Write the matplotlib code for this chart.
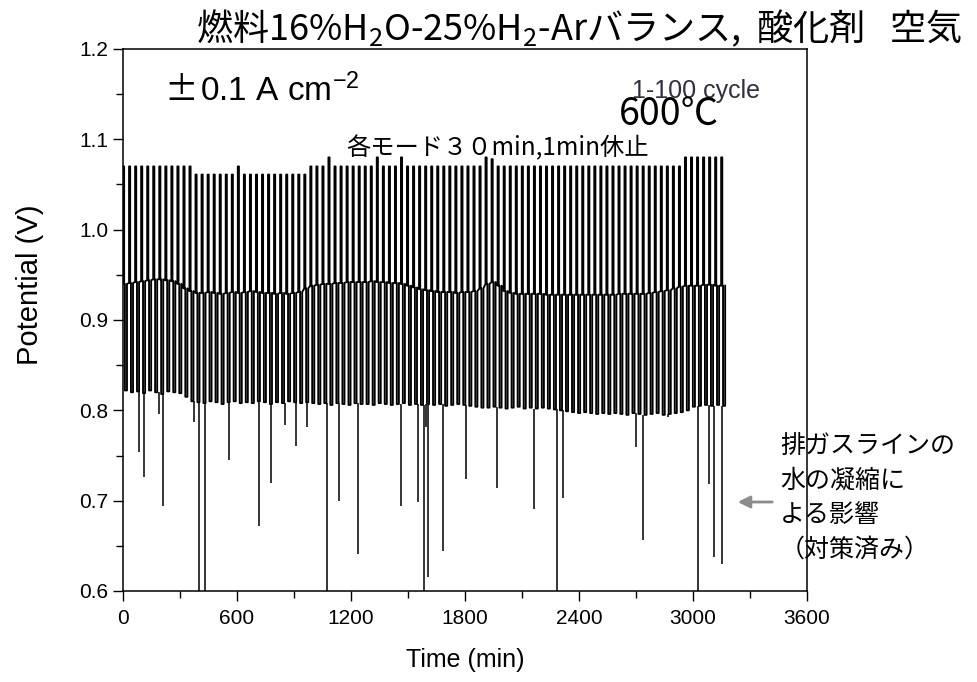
import matplotlib
matplotlib.use('Agg')
import matplotlib.pyplot as plt
from matplotlib.ticker import MultipleLocator, FormatStrFormatter

# --- data ----------------------------------------------------------------
# 100 cycles, one cycle every ~31.8 min (EC high / rest / FC low / rest)
cycle_period = 31.8
step_minutes = [6.0, 4.0, 11.0]

ec_high = [
    1.070, 1.070, 1.070, 1.070, 1.070, 1.070, 1.070, 1.070, 1.070, 1.070,
    1.070, 1.070, 1.061, 1.061, 1.061, 1.061, 1.061, 1.061, 1.061, 1.070,
    1.061, 1.061, 1.061, 1.061, 1.061, 1.061, 1.061, 1.061, 1.061, 1.061,
    1.061, 1.070, 1.070, 1.070, 1.080, 1.070, 1.070, 1.070, 1.070, 1.070,
    1.070, 1.070, 1.080, 1.070, 1.070, 1.070, 1.080, 1.070, 1.070, 1.070,
    1.070, 1.070, 1.070, 1.070, 1.070, 1.070, 1.070, 1.070, 1.070, 1.070,
    1.080, 1.078, 1.070, 1.070, 1.070, 1.070, 1.070, 1.070, 1.070, 1.070,
    1.070, 1.070, 1.070, 1.070, 1.070, 1.070, 1.070, 1.070, 1.070, 1.070,
    1.070, 1.070, 1.070, 1.070, 1.070, 1.070, 1.070, 1.070, 1.070, 1.070,
    1.070, 1.070, 1.070, 1.080, 1.080, 1.080, 1.080, 1.080, 1.080, 1.080,
]

ocv = [
    0.940, 0.941, 0.942, 0.943, 0.944, 0.945, 0.945, 0.944, 0.943, 0.940,
    0.935, 0.932, 0.930, 0.930, 0.931, 0.930, 0.929, 0.930, 0.931, 0.930,
    0.931, 0.932, 0.931, 0.930, 0.930, 0.929, 0.930, 0.929, 0.930, 0.931,
    0.935, 0.938, 0.939, 0.940, 0.940, 0.941, 0.941, 0.942, 0.942, 0.942,
    0.942, 0.943, 0.942, 0.942, 0.941, 0.941, 0.940, 0.938, 0.936, 0.934,
    0.933, 0.932, 0.931, 0.931, 0.931, 0.930, 0.931, 0.931, 0.932, 0.935,
    0.940, 0.942, 0.938, 0.932, 0.930, 0.929, 0.929, 0.929, 0.929, 0.929,
    0.928, 0.928, 0.928, 0.928, 0.928, 0.928, 0.928, 0.928, 0.928, 0.928,
    0.928, 0.928, 0.929, 0.929, 0.929, 0.929, 0.929, 0.930, 0.931, 0.932,
    0.933, 0.935, 0.937, 0.938, 0.938, 0.938, 0.939, 0.939, 0.938, 0.938,
]

fc_low = [
    0.822, 0.820, 0.821, 0.819, 0.822, 0.820, 0.818, 0.821, 0.820, 0.819,
    0.815, 0.810, 0.809, 0.808, 0.810, 0.809, 0.807, 0.809, 0.810, 0.808,
    0.809, 0.808, 0.810, 0.809, 0.807, 0.809, 0.808, 0.810, 0.809, 0.808,
    0.809, 0.808, 0.807, 0.808, 0.806, 0.808, 0.807, 0.806, 0.808, 0.807,
    0.807, 0.806, 0.808, 0.807, 0.806, 0.807, 0.808, 0.806, 0.807, 0.806,
    0.807, 0.806, 0.807, 0.805, 0.806, 0.807, 0.806, 0.805, 0.804, 0.803,
    0.803, 0.804, 0.803, 0.802, 0.803, 0.804, 0.802, 0.803, 0.802, 0.803,
    0.802, 0.801, 0.800, 0.799, 0.798, 0.797, 0.798, 0.797, 0.796, 0.797,
    0.796, 0.797, 0.796, 0.795, 0.797, 0.796, 0.795, 0.796, 0.797, 0.795,
    0.796, 0.797, 0.798, 0.800, 0.804, 0.805, 0.806, 0.805, 0.806, 0.805,
]

# downward spikes (water condensation in exhaust line)
dip_time = [85, 111, 189, 210, 375, 398, 429, 559, 717, 778, 853, 910, 971,
            1075, 1139, 1235, 1462, 1554, 1582, 1596, 1603, 1683, 1806, 1969,
            2164, 2284, 2317, 2699, 2739, 2869, 3027, 3084, 3112, 3155]
dip_value = [0.754, 0.726, 0.796, 0.694, 0.787, 0.55, 0.55, 0.745, 0.672,
             0.720, 0.784, 0.760, 0.782, 0.55, 0.700, 0.641, 0.694, 0.699,
             0.55, 0.781, 0.615, 0.644, 0.724, 0.714, 0.691, 0.55, 0.703,
             0.759, 0.656, 0.793, 0.55, 0.718, 0.638, 0.630]

x_ticks = [0, 600, 1200, 1800, 2400, 3000, 3600]


def main():
    plt.rcParams['font.family'] = ['Liberation Sans', 'Noto Sans CJK JP']
    plt.rcParams['mathtext.fontset'] = 'custom'
    plt.rcParams['mathtext.rm'] = 'Liberation Sans'
    plt.rcParams['mathtext.it'] = 'Liberation Sans:italic'
    cjk = ['Noto Sans CJK JP', 'DejaVu Sans']

    W, H = 977, 682
    fig = plt.figure(figsize=(W / 100, H / 100), dpi=100)
    ax = fig.add_axes([123 / W, 1 - 591 / H, (807 - 123) / W, (591 - 49) / H])

    # build the cycling trace
    t_pts, v_pts = [], []
    for k in range(len(ec_high)):
        t0 = k * cycle_period
        t1 = t0 + step_minutes[0]
        t2 = t1 + step_minutes[1]
        t3 = t2 + step_minutes[2]
        t_pts += [t0, t0, t1, t1, t2, t2, t3, t3]
        v_pts += [ocv[k], ec_high[k], ec_high[k], ocv[k],
                  ocv[k], fc_low[k], fc_low[k], ocv[k]]
    ax.plot(t_pts, v_pts, color='black', lw=1.35)

    tops = [fc_low[min(int(t // cycle_period), len(fc_low) - 1)] for t in dip_time]
    ax.vlines(dip_time, dip_value, tops, color='black', lw=1.1)

    ax.set_xlim(0, 3600)
    ax.set_ylim(0.6, 1.2)
    ax.set_xticks(x_ticks)
    ax.xaxis.set_minor_locator(MultipleLocator(300))
    ax.yaxis.set_major_locator(MultipleLocator(0.1))
    ax.yaxis.set_minor_locator(MultipleLocator(0.05))
    ax.yaxis.set_major_formatter(FormatStrFormatter('%.1f'))
    ax.tick_params(which='major', direction='out', length=7, width=1.0,
                   labelsize=15, top=False, right=False)
    ax.tick_params(which='minor', direction='out', length=5, width=1.0,
                   top=False, right=False)
    ax.tick_params(axis='x', which='major', pad=6)
    for s in ax.spines.values():
        s.set_linewidth(1.1)
    ax.set_xlabel('Time (min)', fontsize=18, labelpad=14)
    ax.set_ylabel('Potential (V)', fontsize=21)
    ax.yaxis.set_label_coords(-0.116, 0.565)

    def fx(px):
        return px / W

    def fy(py):
        return 1 - py / H

    fig.text(fx(579), fy(28), '燃料16%H$_\\mathregular{2}$O-25%H$_\\mathregular{2}$-Arバランス,  酸化剤   空気',
             family='Noto Sans CJK JP', fontsize=26, ha='center', va='center')
    fig.text(fx(164), fy(101), '±', family=cjk, fontsize=24, ha='left', va='baseline')
    fig.text(fx(200), fy(101), '0.1 A cm$^{\\mathregular{-2}}$', fontsize=24,
             ha='left', va='baseline')
    fig.text(fx(632), fy(98), '1-100 cycle', fontsize=18, color='#2f2f3f',
             ha='left', va='baseline')
    fig.text(fx(619), fy(125), '600℃', family=cjk, fontsize=27,
             ha='left', va='baseline')
    fig.text(fx(346), fy(155), '各モード３０min,1min休止', family=cjk, fontsize=17.5,
             ha='left', va='baseline')
    fig.text(fx(780), fy(433), '排ガスラインの\n水の凝縮に\nよる影響\n（対策済み）',
             family=cjk, fontsize=18, ha='left', va='top', linespacing=1.42)
    fig.patches.append(matplotlib.patches.FancyArrowPatch(
        (fx(775), fy(502)), (fx(735), fy(502)), transform=fig.transFigure,
        arrowstyle='-|>', mutation_scale=18, color='#8c8c8c', lw=2))

    fig.savefig('out.png', dpi=100)


if __name__ == '__main__':
    main()
